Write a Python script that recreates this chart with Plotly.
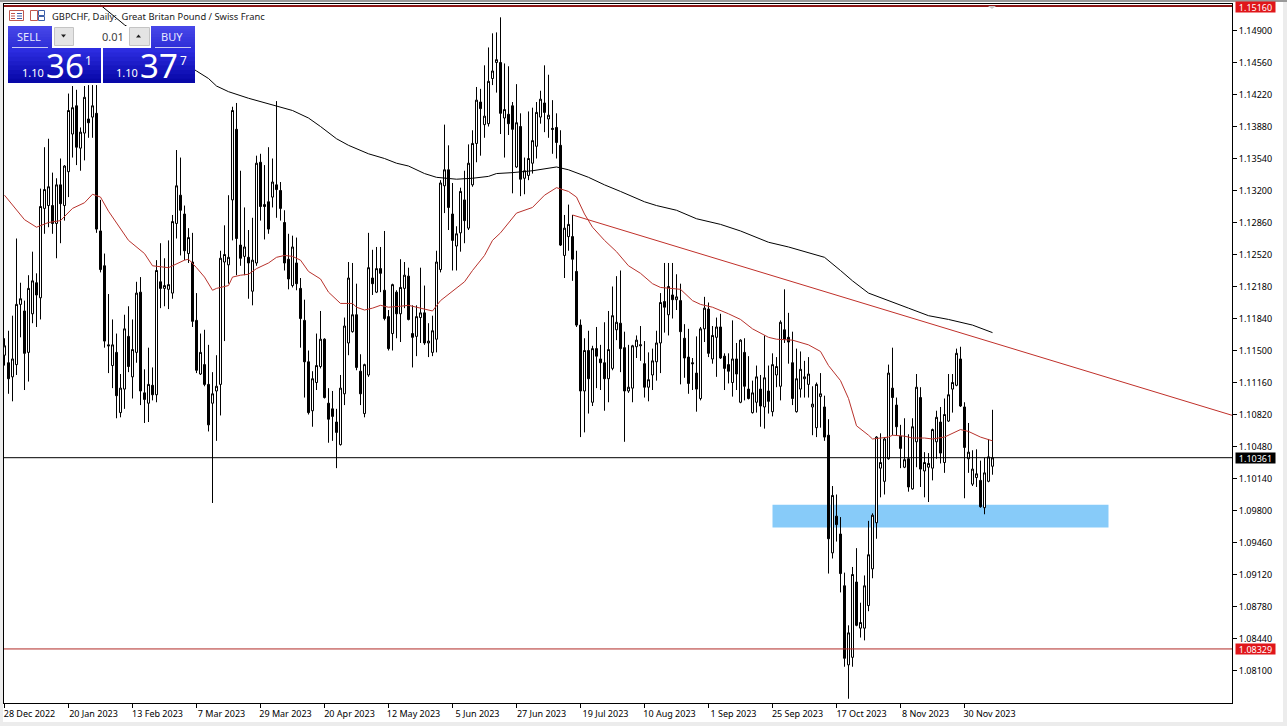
import plotly.graph_objects as go

SCALE = 10000.0
PLOT_W, PLOT_H = 1228, 699
L, T = 4, 4

bar_dir = ("WBWWWBWWBW" "WWBWBWWWBW" "WBWBBBBWBW" "WBWWBBWBWB" "WWWWBBWBBW"
           "BBWWWWWWBB" "WBWWBBBWBB" "BBWBBBBWWW" "BBBBWWWWBB" "WWBWBBBWBW"
           "WBBWWBWWWW" "WBBWWBWWWB" "WWWWBWBBWB" "WWWWWBWBBB" "WWBBBWBWBB"
           "BWWWBBWWWW" "BWWWWBWBWB" "BBBBWWBWWB" "BBWBWBBWWB" "WBWWWBBBWW"
           "WWWWWBBWBB" "BWWBWWWWWW" "WWBBBWBWWB" "WWWWBWWWWB" "BWWWBWWW")

highs = [
 11163,11171,11187,11269,11222,11203,11230,11255,11232,11322,
 11366,11375,11339,11333,11354,11347,11423,11431,11427,11387,
 11431,11432,11432,11432,11310,11253,11210,11183,11168,11125,
 11188,11197,11183,11223,11228,11130,11153,11132,11246,11264,
 11248,11267,11294,11363,11355,11304,11280,11275,11211,11168,
 11172,11156,11127,11145,11256,11283,11315,11409,11413,11341,
 11302,11278,11291,11357,11359,11347,11366,11354,11415,11329,
 11299,11274,11272,11270,11227,11204,11150,11128,11168,11192,
 11163,11110,11107,11088,11124,11185,11244,11243,11221,11146,
 11136,11275,11257,11260,11260,11277,11193,11221,11214,11247,
 11244,11238,11198,11198,11238,11219,11179,11187,11256,11331,
 11390,11368,11328,11282,11323,11341,11369,11384,11430,11428,
 11453,11472,11487,11488,11504,11455,11452,11414,11433,11402,
 11355,11404,11408,11414,11426,11453,11443,11416,11402,11384,
 11294,11305,11294,11256,11183,11163,11171,11155,11175,11156,
 11180,11192,11218,11229,11235,11170,11156,11156,11166,11176,
 11160,11148,11152,11171,11211,11243,11243,11243,11231,11221,
 11178,11173,11142,11165,11175,11207,11201,11176,11185,11189,
 11147,11147,11182,11158,11162,11163,11144,11118,11134,11124,
 11166,11134,11147,11143,11182,11215,11190,11170,11152,11149,
 11139,11143,11112,11116,11126,11102,11077,11006,10997,10973,
 10914,10858,10920,10940,10882,10911,10969,10977,11059,11062,
 11058,11135,11153,11100,11071,11078,11061,11078,11125,11111,
 11042,11041,11067,11086,11090,11099,11125,11125,11152,11154,
 11095,11073,11044,11045,11033,11036,11056,11087]

body_highs = [
 11155,11137,11141,11199,11205,11192,11216,11224,11222,11303,
 11321,11324,11304,11326,11326,11346,11405,11408,11410,11382,
 11419,11396,11410,11402,11277,11240,11156,11156,11148,11110,
 11173,11165,11151,11211,11212,11105,11114,11113,11235,11223,
 11219,11220,11287,11325,11315,11295,11270,11244,11182,11148,
 11135,11114,11104,11112,11248,11252,11249,11405,11385,11262,
 11260,11249,11246,11349,11350,11305,11308,11329,11326,11320,
 11286,11247,11260,11243,11216,11182,11138,11120,11134,11162,
 11162,11094,11088,11074,11110,11176,11227,11188,11188,11128,
 11135,11238,11227,11237,11237,11214,11186,11220,11212,11217,
 11230,11229,11168,11186,11190,11190,11160,11171,11244,11328,
 11342,11342,11295,11274,11319,11310,11349,11370,11416,11414,
 11399,11436,11447,11459,11456,11406,11401,11410,11392,11388,
 11341,11354,11373,11403,11417,11413,11400,11386,11387,11368,
 11280,11284,11271,11234,11177,11150,11150,11152,11152,11141,
 11137,11151,11187,11180,11179,11153,11111,11155,11161,11156,
 11136,11119,11139,11158,11201,11202,11218,11209,11207,11203,
 11163,11143,11137,11126,11173,11195,11194,11166,11175,11175,
 11144,11135,11141,11141,11161,11148,11109,11105,11122,11109,
 11121,11107,11135,11133,11180,11172,11164,11137,11120,11130,
 11122,11125,11093,11114,11104,11090,11060,10996,10974,10955,
 10900,10850,10912,10904,10861,10900,10933,10975,11058,11031,
 11056,11126,11110,11092,11059,11034,11035,11069,11111,11100,
 11031,11030,11066,11079,11074,11082,11103,11116,11147,11141,
 11090,11042,11024,11019,11012,11020,11037,11036]

body_lows = [
 11145,11120,11122,11135,11199,11147,11148,11189,11209,11206,
 11301,11304,11285,11285,11306,11304,11340,11380,11366,11365,
 11381,11392,11398,11279,11236,11160,11155,11134,11102,11084,
 11109,11133,11122,11148,11107,11098,11094,11103,11103,11216,
 11216,11215,11211,11285,11299,11256,11253,11181,11129,11125,
 11114,11071,11094,11107,11114,11244,11241,11310,11269,11248,
 11250,11243,11213,11243,11303,11303,11279,11313,11321,11301,
 11243,11226,11219,11221,11184,11138,11084,11086,11116,11133,
 11100,11077,11080,11063,11050,11104,11158,11170,11132,11104,
 11083,11124,11221,11212,11232,11184,11152,11168,11189,11189,
 11216,11183,11164,11165,11185,11158,11158,11148,11162,11236,
 11325,11302,11267,11261,11275,11288,11280,11326,11370,11407,
 11390,11391,11439,11456,11402,11397,11391,11385,11345,11332,
 11333,11336,11349,11367,11398,11403,11396,11385,11371,11262,
 11251,11271,11247,11177,11107,11107,11120,11095,11144,11137,
 11120,11120,11131,11172,11152,11107,11107,11110,11154,11155,
 11111,11111,11124,11138,11158,11196,11188,11204,11204,11170,
 11142,11115,11136,11109,11099,11173,11147,11141,11164,11142,
 11131,11128,11116,11125,11095,11112,11099,11084,11095,11091,
 11090,11096,11085,11124,11112,11162,11159,11099,11085,11109,
 11120,11114,11090,11068,11101,11058,10950,10935,10965,10913,
 10823,10816,10824,10858,10855,10855,10879,10918,10967,11025,
 11011,11035,11100,11069,11046,11026,11005,11003,11053,11024,
 11022,11026,11025,11053,11041,11031,11075,11109,11113,11091,
 11047,11035,11008,11015,10984,10983,11011,11027]

lows = [
 11134,11104,11096,11124,11164,11108,11117,11179,11175,11183,
 11274,11281,11274,11248,11264,11288,11313,11355,11347,11341,
 11352,11376,11376,11275,11233,11153,11126,11110,11078,11079,
 11088,11127,11099,11137,11092,11073,11074,11097,11095,11195,
 11197,11194,11205,11269,11251,11246,11243,11175,11126,11124,
 11112,11064,10988,11054,11081,11160,11221,11267,11230,11240,
 11230,11205,11198,11240,11288,11268,11274,11302,11291,11288,
 11235,11215,11217,11214,11153,11100,11082,11069,11108,11131,
 11099,11052,11054,11025,11049,11092,11145,11169,11129,11092,
 11079,11122,11209,11211,11212,11182,11150,11150,11163,11159,
 11195,11182,11132,11144,11158,11156,11143,11144,11148,11233,
 11296,11278,11235,11235,11255,11264,11278,11324,11350,11357,
 11376,11388,11432,11424,11380,11355,11379,11317,11344,11314,
 11316,11331,11338,11354,11391,11382,11376,11359,11354,11261,
 11227,11256,11224,11175,11058,11063,11083,11091,11110,11108,
 11086,11095,11129,11161,11127,11053,11105,11095,11142,11139,
 11100,11096,11108,11118,11126,11169,11166,11184,11193,11114,
 11121,11104,11108,11085,11097,11159,11143,11136,11122,11141,
 11108,11115,11101,11108,11094,11097,11098,11083,11084,11069,
 11067,11083,11080,11111,11097,11158,11136,11092,11084,11100,
 11100,11100,11060,11058,11068,11054,10913,10929,10947,10893,
 10814,10780,10814,10857,10845,10842,10873,10908,10950,10994,
 10997,11034,11060,11060,11025,11025,11000,11002,11026,11005,
 10994,10989,11012,11035,11030,11020,11074,11084,11112,11090,
 10993,11020,11006,11005,10983,10976,11010,11018]

ma_fast_bars = [0,2,4,5,8,11,14,17,20,22,24,26,31,35,37,41,45,46,48,50,52,53,56,57,59,61,63,66,68,70,72,74,76,79,81,84,87,88,90,92,94,96,99,101,103,105,107,109,111,113,115,117,120,122,124,128,132,135,138,141,143,145,147,150,153,156,159,162,164,169,172,174,177,181,184,187,191,193,197,201,204,206,209,211,213,216,217,221,222,225,227,230,232,235,237,239,241,244,247]
ma_fast = [11315,11305,11294,11289,11281,11286,11288,11301,11307,11316,11313,11298,11267,11253,11240,11238,11246,11247,11238,11228,11214,11216,11219,11228,11230,11231,11237,11243,11249,11251,11250,11246,11234,11226,11212,11200,11200,11196,11193,11195,11198,11196,11197,11198,11196,11194,11192,11203,11210,11216,11223,11235,11251,11267,11275,11296,11302,11315,11323,11319,11313,11295,11281,11267,11255,11240,11232,11221,11217,11215,11203,11199,11196,11189,11183,11173,11164,11162,11161,11156,11149,11134,11118,11099,11070,11060,11056,11058,11060,11059,11057,11057,11056,11058,11062,11066,11064,11058,11054]

ma_slow_bars = [24,30,48,51,53,56,61,68,72,76,79,83,86,91,95,98,101,105,108,113,117,121,123,127,132,138,141,146,150,154,160,163,168,173,179,184,191,196,201,205,209,212,216,222,226,231,236,242,247]
ma_slow = [11517,11496,11447,11439,11431,11425,11418,11410,11405,11397,11388,11375,11368,11359,11354,11349,11346,11338,11334,11332,11333,11335,11338,11339,11341,11345,11342,11334,11326,11319,11308,11304,11299,11290,11284,11277,11265,11260,11254,11249,11235,11224,11211,11201,11195,11187,11183,11177,11169]

trend_bars = [142, 307]
trend_prices = [11294, 11081]

zone_bars = [192, 276]
zone_prices = [10986, 10962]

last_price = 1.10361
support_price = 1.08329
top_price = 1.15160

price_ticks = [1.14900,1.14560,1.14220,1.13880,1.13540,1.13200,1.12860,1.12520,1.12180,1.11840,1.11500,1.11160,1.10820,1.10480,1.10140,1.09800,1.09460,1.09120,1.08780,1.08440,1.08100]
date_ticks = [0,16,32,48,64,80,96,112,128,144,160,176,192,208,224,240]
date_labels = ["28 Dec 2022","20 Jan 2023","13 Feb 2023","7 Mar 2023","29 Mar 2023","20 Apr 2023","12 May 2023","5 Jun 2023","27 Jun 2023","19 Jul 2023","10 Aug 2023","1 Sep 2023","25 Sep 2023","17 Oct 2023","8 Nov 2023","30 Nov 2023"]

assert len(highs) == len(lows) == len(body_highs) == len(body_lows) == len(bar_dir) == 248
assert len(ma_fast) == len(ma_fast_bars) and len(ma_slow) == len(ma_slow_bars)

bars = list(range(len(highs)))
opens, closes = [], []
for d, hi, lo in zip(bar_dir, body_highs, body_lows):
    opens.append((lo if d == "W" else hi) / SCALE)
    closes.append((hi if d == "W" else lo) / SCALE)

FONT = "Noto Sans"
RED = "#b8322c"
fig = go.Figure()
fig.add_trace(go.Candlestick(
    x=bars, open=opens, close=closes,
    high=[v / SCALE for v in highs], low=[v / SCALE for v in lows],
    increasing=dict(line=dict(color="#000000", width=1), fillcolor="#ffffff"),
    decreasing=dict(line=dict(color="#000000", width=1), fillcolor="#000000"),
    whiskerwidth=0, showlegend=False, hoverinfo="skip"))
fig.add_trace(go.Scatter(x=ma_slow_bars, y=[v / SCALE for v in ma_slow], mode="lines",
                         line=dict(color="#000000", width=1), showlegend=False, hoverinfo="skip"))
fig.add_trace(go.Scatter(x=ma_fast_bars, y=[v / SCALE for v in ma_fast], mode="lines",
                         line=dict(color=RED, width=1), showlegend=False, hoverinfo="skip"))
fig.add_trace(go.Scatter(x=trend_bars, y=[v / SCALE for v in trend_prices], mode="lines",
                         line=dict(color="#c0302a", width=1), showlegend=False, hoverinfo="skip"))

def px(x):
    return (x - L) / PLOT_W

def py(y):
    return 1 - (y - T) / PLOT_H

shapes, notes = [], []

def rect(x0, y0, x1, y1, fill, line=None, layer="above"):
    shapes.append(dict(type="rect", xref="paper", yref="paper", x0=px(x0), x1=px(x1), y0=py(y1), y1=py(y0),
                       fillcolor=fill, line=dict(color=line or fill, width=1 if line else 0), layer=layer))

def seg(x0, y0, x1, y1, color, width=1):
    shapes.append(dict(type="line", xref="paper", yref="paper", x0=px(x0), x1=px(x1), y0=py(y0), y1=py(y1),
                       line=dict(color=color, width=width), layer="above"))

def text(x, y, s, size, color="#ffffff", anchor="center", font=FONT):
    notes.append(dict(xref="paper", yref="paper", x=px(x), y=py(y), text=s, showarrow=False, xanchor=anchor,
                      yanchor="middle", font=dict(family=font, size=size, color=color), borderpad=0))

# demand zone, below the candles
shapes.append(dict(type="rect", xref="x", yref="y", x0=zone_bars[0], x1=zone_bars[1],
                   y0=zone_prices[0] / SCALE, y1=zone_prices[1] / SCALE,
                   fillcolor="#87cbf9", line=dict(width=0), layer="below"))
for price, color, w in [(last_price, "#000000", 1), (support_price, "#b02a26", 1), (top_price, "#8c1414", 2)]:
    shapes.append(dict(type="line", xref="paper", yref="y", x0=0, x1=1, y0=price, y1=price,
                       line=dict(color=color, width=w), layer="above"))

# window frame strips
for x0, y0, x1, y1 in [(0, 0, 3, 726), (0, 0, 1287, 2), (1283, 0, 1287, 726), (0, 722, 1287, 726)]:
    rect(x0, y0, x1, y1, "#ececec")
rect(0, 0, 1287, 2, "#9a9a9a")

# tiny chart-shift marker at the top
shapes.append(dict(type="path", xref="paper", yref="paper",
                   path=f"M {px(988)} {py(6)} L {px(996)} {py(6)} L {px(992)} {py(9)} Z",
                   fillcolor="#c8c8c8", line=dict(width=0), layer="above"))

# title row icons
rect(9.5, 10.5, 23.5, 20.5, "#ffffff", "#c0574e")
for yy in (13.5, 16, 18.5):
    seg(11, yy, 15, yy, "#c0574e")
    seg(17, yy, 22, yy, "#3c5fa8")
rect(30.5, 10.5, 37.5, 20.5, "#ffffff", "#c0574e")
rect(38.5, 10.5, 44.5, 15.5, "#ffffff", "#3c5fa8")
rect(38.5, 16.5, 44.5, 20.5, "#ffffff", "#3c5fa8")
text(51, 16, "GBPCHF, Daily:  Great Britan Pound / Swiss Franc", 9.35, "#202020", "left")

# one-click trading panel
def gradient(x0, y0, x1, y1, top, bottom):
    steps = 8
    t = [int(top[i:i + 2], 16) for i in (1, 3, 5)]
    b = [int(bottom[i:i + 2], 16) for i in (1, 3, 5)]
    for k in range(steps):
        f = k / (steps - 1)
        c = "#%02x%02x%02x" % tuple(round(t[j] + (b[j] - t[j]) * f) for j in range(3))
        rect(x0, y0 + (y1 - y0) * k / steps, x1, min(y1, y0 + (y1 - y0) * (k + 1) / steps + 1), c)

rect(52, 26, 151, 48, "#ffffff")
gradient(8, 26, 52, 48, "#4646e8", "#3030d8")
gradient(151, 26, 195, 48, "#4646e8", "#3030d8")
gradient(8, 48, 101, 83, "#2c2ce0", "#0808a8")
gradient(103, 48, 195, 83, "#2c2ce0", "#0808a8")
rect(54.5, 27.5, 73.5, 45.5, "#e4e4e4", "#c4c4c4")
rect(129.5, 27.5, 149.5, 45.5, "#e4e4e4", "#c4c4c4")
seg(12, 47.5, 48, 47.5, "#c8c8f4")
seg(155, 47.5, 191, 47.5, "#c8c8f4")
shapes.append(dict(type="path", xref="paper", yref="paper",
                   path=f"M {px(61)} {py(34.5)} L {px(66)} {py(34.5)} L {px(63.5)} {py(37.5)} Z",
                   fillcolor="#202020", line=dict(width=0), layer="above"))
shapes.append(dict(type="path", xref="paper", yref="paper",
                   path=f"M {px(136)} {py(37.5)} L {px(141)} {py(37.5)} L {px(138.5)} {py(34.5)} Z",
                   fillcolor="#202020", line=dict(width=0), layer="above"))
text(29, 36.5, "SELL", 11, "#e8e8ff")
text(172, 36.5, "BUY", 11, "#e8e8ff")
text(124.5, 36, "0.01", 11, "#404040", "right")
text(33, 72.5, "1.10", 11, "#ffffff")
text(65, 66, "36", 33, "#ffffff")
text(88, 60, "1", 12, "#ffffff")
text(127, 72.5, "1.10", 11, "#ffffff")
text(159, 66, "37", 33, "#ffffff")
text(183, 60, "7", 12, "#ffffff")

# price tags on the price scale
for price, bg, ys in [(top_price, "#e0161a", -1), (last_price, "#000000", 0), (support_price, "#e0161a", 0)]:
    notes.append(dict(xref="paper", yref="y", x=1, y=price, xshift=3, yshift=ys, text=f"{price:.5f}",
                      showarrow=False, width=39, height=10, align="center", valign="middle",
                      xanchor="left", yanchor="middle", bgcolor=bg, borderpad=0,
                      font=dict(family=FONT, size=9, color="#ffffff")))

# pixel 30 (centre 30.5) is 1.14900, one pixel is 0.00010625
y_top = 1.149 + 26.5 * 0.00010625
y_bottom = 1.149 - 672.5 * 0.00010625

fig.update_layout(
    width=1287, height=726, margin=dict(l=L, r=1287 - L - PLOT_W, t=T, b=726 - T - PLOT_H),
    paper_bgcolor="#ffffff", plot_bgcolor="#ffffff", showlegend=False, boxgap=0.2857,
    shapes=shapes, annotations=notes,
    font=dict(family=FONT, size=9, color="#000000"),
    xaxis=dict(range=[-0.125, 306.875], rangeslider=dict(visible=False), showgrid=False, zeroline=False,
               tickmode="array", tickvals=date_ticks, ticktext=date_labels, ticks="outside", ticklen=4,
               tickcolor="#000000", tickwidth=1, ticklabelshift=25, ticklabelstandoff=-2, tickangle=0,
               showline=True, linecolor="#000000", linewidth=1, mirror=True),
    yaxis=dict(range=[y_bottom, y_top], side="right", showgrid=False, zeroline=False,
               tickmode="array", tickvals=price_ticks, ticktext=[f"{v:.5f}" for v in price_ticks],
               ticks="outside", ticklen=4, tickcolor="#000000", tickwidth=1,
               showline=True, linecolor="#000000", linewidth=1, mirror=True),
)

fig.write_html("out.html", config=dict(displayModeBar=False),
               post_script="document.body.style.margin='0';document.documentElement.style.overflow='hidden';window.dispatchEvent(new Event('resize'));")
